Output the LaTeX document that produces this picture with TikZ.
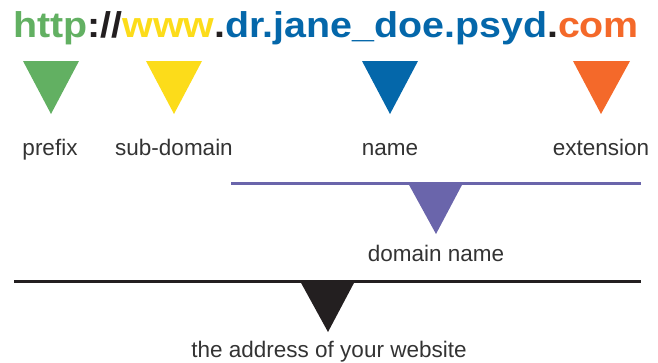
\documentclass[tikz,border=0pt]{standalone}
\usepackage{fontspec}
\setmainfont{Liberation Sans}
\definecolor{cgreen}{HTML}{62B062}
\definecolor{cyellow}{HTML}{FCDC1A}
\definecolor{cblack}{HTML}{231F20}
\definecolor{cblue}{HTML}{0467AA}
\definecolor{corange}{HTML}{F4692A}
\definecolor{cpurple}{HTML}{6A65AB}
\definecolor{clabel}{HTML}{333333}
\begin{document}
\begin{tikzpicture}[x=1pt,y=-1pt,
  lbl/.style={anchor=base,inner sep=0pt,text=clabel,font=\fontsize{22.5}{23}\selectfont}]
\useasboundingbox (0,0) rectangle (658,362);
% title
\node[anchor=base west,inner sep=0pt] (title) at (13,37)
  {\scalebox{1.1}[1]{\fontsize{35.8}{36}\selectfont\bfseries
   \textcolor{cgreen}{http}\textcolor{cblack}{://}\textcolor{cyellow}{www}\textcolor{cblack}{.}\textcolor{cblue}{dr.jane\_doe.psyd}\textcolor{cblack}{.}\textcolor{corange}{com}}};
% top triangles
\fill[cgreen]  (23,61) -- (79,61) -- (51,114) -- cycle;
\fill[cyellow] (146,61) -- (202,61) -- (174,114) -- cycle;
\fill[cblue]   (362,61) -- (418,61) -- (390,114) -- cycle;
\fill[corange] (573,61) -- (630,61) -- (601,114) -- cycle;
\node[lbl] (prefix) at (50,155) {prefix};
\node[lbl] (sub) at (174,155) {sub-domain};
\node[lbl] (name) at (390,155) {name};
\node[lbl] (ext) at (601,155) {extension};
% domain name
\draw[cpurple,line width=2.6pt] (231,183.5) -- (641,183.5);
\fill[cpurple] (408,183) -- (463,183) -- (436,234) -- cycle;
\node[lbl] (domain) at (436,261) {domain name};
% website
\draw[cblack,line width=2.8pt] (14,281.5) -- (641,281.5);
\fill[cblack] (300,281) -- (355,281) -- (328,332) -- cycle;
\node[lbl] (site) at (329,357) {the address of your website};
\end{tikzpicture}
\end{document}
